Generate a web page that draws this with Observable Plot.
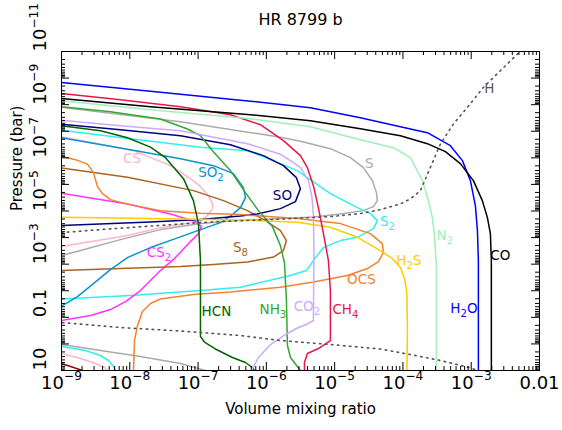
<!DOCTYPE html>
<html><head><meta charset="utf-8">
<script src="https://cdn.jsdelivr.net/npm/d3@7"></script>
<script src="https://cdn.jsdelivr.net/npm/@observablehq/plot@0.6"></script>
<style>
body{margin:0;background:#fff;}
</style></head><body><div id="chart"></div>
<script>
// Each profile: pairs [log10 volume mixing ratio, log10 pressure (bar)]; null = gap
const H2O = [[-9.161,-9.883],[-9,-9.837],[-7.697,-9.507],[-6.233,-9.131],[-5.355,-8.886],[-4.623,-8.510],[-4.037,-8.172],[-3.642,-7.946],[-3.305,-7.458],[-3.129,-6.894],[-3.012,-6.142],[-2.939,-5.202],[-2.909,-4.263],[-2.895,-3.135],[-2.895,1]];
const CO = [[-9.161,-9.289],[-9,-9.232],[-7.697,-8.924],[-6.233,-8.623],[-5.355,-8.398],[-4.623,-8.097],[-4.037,-7.834],[-3.642,-7.533],[-3.378,-7.232],[-3.159,-6.781],[-2.968,-6.142],[-2.837,-5.390],[-2.763,-4.751],[-2.719,-4.150],[-2.705,-3.135],[-2.705,1]];
const N2 = [[-9.161,-9.194],[-9,-9.149],[-7.697,-8.811],[-6.233,-8.473],[-5.355,-8.172],[-4.623,-7.683],[-4.140,-7.383],[-3.891,-7.007],[-3.715,-6.142],[-3.627,-5.390],[-3.569,-4.751],[-3.540,-4.150],[-3.510,-2.872],[-3.510,1]];
const CH4 = [[-9.161,-9.461],[-9,-9.424],[-8.136,-9.187],[-7.258,-8.924],[-6.526,-8.623],[-6.087,-8.247],[-5.750,-7.646],[-5.501,-7.082],[-5.399,-6.631],[-5.311,-5.954],[-5.238,-5.127],[-5.164,-4.150],[-5.091,-3.135],[-5.062,-2.007],[-5.062,-0.128],[-5.238,0.173],[-5.399,0.361],[-5.442,0.699],[-5.442,1]];
const S = [[-9.161,-8.961],[-9,-8.898],[-7.258,-8.360],[-5.794,-7.777],[-5.501,-7.627],[-5.062,-7.345],[-4.769,-7.007],[-4.579,-6.631],[-4.447,-6.142],[-4.388,-5.691],[-4.374,-5.390],[-4.432,-5.165],[-4.579,-5.014],[-4.915,-4.883],[-5.311,-4.770],[-6.087,-4.676],[-6.526,-4.620],[-6.965,-4.526],[-7.551,-4.300],[-8.136,-3.924],[-8.722,-3.511],[-9,-3.323],[-9.161,-3.210],null,[-9.161,-0.053],[-9,0.023],[-8.429,0.248],[-7.843,0.474],[-7.258,0.737],[-6.892,1]];
const S2 = [[-9.161,-8.093],[-9,-8.040],[-7.990,-7.721],[-6.965,-7.394],[-6.277,-7.270],[-5.794,-6.781],[-5.545,-6.518],[-5.062,-5.653],[-4.667,-5.127],[-4.476,-4.902],[-4.374,-4.639],[-4.432,-4.338],[-4.667,-4.011],[-4.915,-3.887],[-5.164,-3.624],[-5.311,-3.135],[-5.413,-2.759],[-5.647,-2.571],[-6.379,-2.131],[-6.965,-2.007],[-7.990,-1.819],[-9,-1.688],[-9.161,-1.669],null,[-9.161,0.060],[-9,0.098],[-8.649,0.248],[-8.429,0.436],[-8.312,0.624],[-8.239,0.850],[-8.209,1]];
const CS = [[-9.161,-7.853],[-9,-7.796],[-7.946,-7.270],[-7.404,-6.706],[-7.111,-6.217],[-6.965,-5.917],[-6.848,-5.578],[-6.789,-5.278],[-6.789,-5.090],[-6.863,-4.826],[-6.965,-4.620],[-7.258,-4.488],[-7.551,-4.375],[-8.034,-4.075],[-9,-3.661],[-9.161,-3.586],null,[-9.161,0.286],[-9,0.361],[-8.722,0.549],[-8.502,0.737],[-8.370,0.887],[-8.327,1]];
const SO = [[-9.161,-8.304],[-9,-8.266],[-8.136,-8.059],[-7.258,-7.834],[-6.526,-7.495],[-6.043,-7.082],[-5.750,-6.706],[-5.560,-6.255],[-5.501,-5.841],[-5.574,-5.353],[-5.794,-5.090],[-6.131,-4.890],[-6.379,-4.808],[-6.965,-4.676],[-7.697,-4.582],[-9,-4.451],[-9.161,-4.432]];
const SO2 = [[-9.161,-7.815],[-9,-7.758],[-7.990,-7.307],[-7.258,-6.969],[-6.775,-6.706],[-6.482,-6.405],[-6.336,-5.879],[-6.306,-5.503],[-6.379,-5.127],[-6.497,-4.864],[-6.672,-4.563],[-6.965,-4.300],[-7.331,-3.962],[-7.697,-3.624],[-8.034,-3.248],[-8.283,-2.797],[-8.532,-2.270],[-8.766,-1.782],[-9,-1.425],[-9.161,-1.218]];
const CO2 = [[-9.161,-8.461],[-9,-8.416],[-8.136,-8.210],[-7.258,-8.022],[-6.277,-7.533],[-5.794,-7.138],[-5.501,-6.642],[-5.384,-6.142],[-5.333,-5.541],[-5.311,-4.826],[-5.303,-3.511],[-5.311,-0.880],[-5.413,-0.729],[-5.545,-0.598],[-5.721,-0.353],[-5.940,0.023],[-6.116,0.511],[-6.218,1]];
const NH3 = [[-9.161,-8.980],[-9,-8.924],[-8.283,-8.736],[-7.551,-8.461],[-7.155,-8.086],[-6.965,-7.834],[-6.789,-7.270],[-6.526,-6.518],[-6.306,-5.691],[-6.116,-5.014],[-5.911,-4.413],[-5.794,-3.699],[-5.735,-3.060],[-5.706,-1.631],[-5.691,0.060],[-5.647,0.511],[-5.545,0.850],[-5.501,1]];
const HCN = [[-9.161,-8.266],[-9,-8.210],[-8.429,-8.022],[-8.034,-7.758],[-7.697,-7.401],[-7.477,-7.007],[-7.214,-6.217],[-7.068,-5.390],[-6.994,-4.526],[-6.965,-3.135],[-6.965,-0.278],[-6.906,-0.071],[-6.731,0.211],[-6.497,0.511],[-6.306,0.699],[-6.204,0.887],[-6.174,1]];
const OCS = [[-9.161,-7.119],[-9,-7.063],[-8.795,-6.931],[-8.619,-6.762],[-8.532,-6.443],[-8.473,-5.917],[-8.400,-5.653],[-8.283,-5.428],[-8.034,-5.259],[-7.551,-5.014],[-6.965,-4.920],[-6.379,-4.864],[-5.545,-4.714],[-4.915,-4.526],[-4.476,-4.150],[-4.301,-3.774],[-4.286,-3.436],[-4.359,-3.097],[-4.520,-2.834],[-4.813,-2.571],[-5.311,-2.327],[-5.794,-2.131],[-6.526,-1.951],[-7.068,-1.857],[-7.551,-1.688],[-7.697,-1.519],[-7.814,-1.218],[-7.887,-0.692],[-7.931,-0.128],[-7.946,1]];
const H2S = [[-9.161,-4.770],[-9,-4.763],[-7.697,-4.714],[-6.379,-4.665],[-5.545,-4.575],[-5.062,-4.387],[-4.667,-4.011],[-4.330,-3.511],[-4.154,-3.210],[-4.037,-2.872],[-3.978,-2.458],[-3.942,-1.932],[-3.934,-0.504],[-3.942,1]];
const S8 = [[-9.161,-6.676],[-9,-6.620],[-8.034,-6.266],[-7.068,-5.766],[-6.628,-5.390],[-6.277,-5.014],[-6.013,-4.639],[-5.794,-4.263],[-5.706,-3.887],[-5.750,-3.511],[-5.896,-3.267],[-6.277,-3.079],[-6.775,-2.985],[-7.258,-2.909],[-8.136,-2.834],[-9,-2.759],[-9.161,-2.740]];
const CS2 = [[-9.161,-5.710],[-9,-5.665],[-8.034,-5.266],[-7.404,-4.890],[-7.038,-4.601],[-6.950,-4.413],[-6.994,-4.150],[-7.111,-3.849],[-7.331,-3.248],[-7.551,-2.759],[-7.843,-2.007],[-8.063,-1.594],[-8.283,-1.293],[-8.575,-1.067],[-9,-0.880],[-9.161,-0.842]];
const DEEP = [[-9.161,0.662],[-9,0.737],[-8.693,1]];
const H = [[-2.192,-11.254],[-2.324,-10.905],[-2.573,-10.277],[-2.822,-9.649],[-3.056,-8.898],[-3.261,-8.273],[-3.451,-7.522],[-3.598,-6.642],[-3.744,-5.766],[-3.891,-5.454],[-4.037,-5.266],[-4.330,-5.052],[-4.623,-4.902],[-5.062,-4.789],[-5.794,-4.695],[-6.526,-4.620],[-6.965,-4.563],[-7.697,-4.432],[-8.429,-4.300],[-9,-4.187],[-9.161,-4.150],null,[-9.161,-0.842],[-9,-0.804],[-8.136,-0.616],[-7.258,-0.485],[-6.379,-0.316],[-5.794,-0.128],[-5.062,0.023],[-4.330,0.192],[-3.891,0.399],[-3.451,0.624],[-3.085,0.850],[-2.895,1]];

const seriesNames = ["DEEP","S","CS","S2","CS2","S8","SO2","SO","OCS","H2S","HCN","NH3","CO2","CH4","N2","H2O","CO"];
const seriesProfiles = [DEEP,S,CS,S2,CS2,S8,SO2,SO,OCS,H2S,HCN,NH3,CO2,CH4,N2,H2O,CO];
const seriesColors = ["#990000","#aaaaaa","#ffb4cc","#33eeee","#ff33ff","#aa6422","#0a94cc","#00007f","#f5822e","#ffcc00","#006400","#33a833","#ccaaff","#e8174a","#a0f0b8","#0000ff","#000000"];

// Curve labels: text, log10 VMR, log10 P, series colour key
const labelText = ["H","S","CS","SO_{2}","SO","S_{2}","N_{2}","CO","H_{2}S","OCS","CS_{2}","S_{8}","HCN","NH_{3}","CO_{2}","CH_{4}","H_{2}O"];
const labelLogVMR = [-2.734,-4.491,-7.968,-6.811,-5.765,-4.227,-3.386,-2.573,-3.913,-4.608,-7.573,-6.379,-6.731,-5.904,-5.406,-4.842,-3.107];
const labelLogP = [-9.600,-6.781,-6.969,-6.443,-5.578,-4.601,-4.075,-3.323,-3.135,-2.421,-3.436,-3.624,-1.218,-1.293,-1.406,-1.293,-1.331];
const labelSeries = ["H","S","CS","SO2","SO","S2","N2","CO","H2S","OCS","CS2","S8","HCN","NH3","CO2","CH4","H2O"];

const xTickValues = [1e-9,1e-8,1e-7,1e-6,1e-5,1e-4,1e-3,1e-2];
const xTickLabels = ["10^{−9}","10^{−8}","10^{−7}","10^{−6}","10^{−5}","10^{−4}","10^{−3}","0.01"];
const yTickValues = [10,0.1,1e-3,1e-5,1e-7,1e-9,1e-11];
const yTickLabels = ["10","0.1","10^{−3}","10^{−5}","10^{−7}","10^{−9}","10^{−11}"];

const title = "HR 8799 b";
const xTitle = "Volume mixing ratio";
const yTitle = "Pressure (bar)";

// ---- build tables ----
function toRows(name, prof){
  return prof.map(pt => pt ? {s:name, vmr:10**pt[0], p:10**pt[1]} : {s:name, vmr:NaN, p:NaN});
}
const rows = seriesNames.flatMap((n,i)=>toRows(n, seriesProfiles[i]));
const hRows = toRows("H", H);
const colorOf = Object.fromEntries(seriesNames.map((n,i)=>[n,seriesColors[i]]));
colorOf.H = "#555555";
const labels = labelText.map((t,i)=>({t, vmr:10**labelLogVMR[i], p:10**labelLogP[i], c:colorOf[labelSeries[i]]}));

const xDecades = xTickValues;
const xMinor = xDecades.slice(0,-1).flatMap(d=>[2,3,4,5,6,7,8,9].map(k=>k*d));
const yDecades = [1e-11,1e-10,1e-9,1e-8,1e-7,1e-6,1e-5,1e-4,1e-3,1e-2,1e-1,1,10];
const yMinor = yDecades.slice(0,-1).flatMap(d=>[2,3,4,5,6,7,8,9].map(k=>k*d));

const W=562, HT=430, mL=61, mR=23, mT=51, mB=60;
const fw = W-mL-mR, fh = HT-mT-mB;
const maj=8, mnr=4;

const chart = Plot.plot({
  width: W, height: HT,
  marginLeft: mL, marginRight: mR, marginTop: mT, marginBottom: mB,
  style: {fontFamily: "'DejaVu Sans', sans-serif", background: "#fff", overflow:"visible"},
  x: {type:"log", domain:[1e-9,1e-2], axis:null},
  y: {type:"log", domain:[10,1e-11], axis:null},
  color: {domain: seriesNames, range: seriesColors},
  marks: [
    Plot.line(rows, {x:"vmr", y:"p", z:"s", stroke:"s", strokeWidth:1.5, clip:true}),
    Plot.line(hRows, {x:"vmr", y:"p", stroke:"#555555", strokeWidth:1.6, strokeDasharray:"1.5,4.5", clip:true}),
    Plot.text(labels, {x:"vmr", y:"p", text:"t", fill:"c", fontSize:13.5}),
    // ticks (inward) on all sides
    Plot.ruleX(xDecades, {x:d=>d, insetTop: fh-maj, stroke:"#000"}),
    Plot.ruleX(xDecades, {x:d=>d, insetBottom: fh-maj, stroke:"#000"}),
    Plot.ruleX(xMinor, {x:d=>d, insetTop: fh-mnr, stroke:"#000"}),
    Plot.ruleX(xMinor, {x:d=>d, insetBottom: fh-mnr, stroke:"#000"}),
    Plot.ruleY(yDecades, {y:d=>d, insetRight: fw-maj, stroke:"#000"}),
    Plot.ruleY(yDecades, {y:d=>d, insetLeft: fw-maj, stroke:"#000"}),
    Plot.ruleY(yMinor, {y:d=>d, insetRight: fw-mnr, stroke:"#000"}),
    Plot.ruleY(yMinor, {y:d=>d, insetLeft: fw-mnr, stroke:"#000"}),
    Plot.frame({stroke:"#000", strokeWidth:1}),
    // tick labels
    Plot.text(xTickValues, {x:d=>d, text:(d,i)=>xTickLabels[i], frameAnchor:"bottom", dy:18, fontSize:18, fill:"#000"}),
    Plot.text(yTickValues, {y:d=>d, text:(d,i)=>yTickLabels[i], frameAnchor:"left", dx:-21, rotate:-90, fontSize:18, fill:"#000"}),
    // titles
    Plot.text([title], {frameAnchor:"top", dy:-38, fontSize:16, fill:"#000"}),
    Plot.text([xTitle], {frameAnchor:"bottom", dy:43, fontSize:15, fill:"#000"}),
    Plot.text([yTitle], {frameAnchor:"left", dx:-44, rotate:-90, fontSize:15, fill:"#000"})
  ]
});
document.getElementById("chart").appendChild(chart);

// rich text: ^{..} superscript, _{..} subscript
const NS = "http://www.w3.org/2000/svg";
chart.querySelectorAll("text").forEach(t=>{
  const s = t.textContent;
  if(!/[\^_]\{/.test(s)) return;
  const fs = parseFloat(getComputedStyle(t).fontSize) || 14;
  const parts = s.split(/([\^_]\{[^}]*\})/).filter(p=>p.length);
  while(t.firstChild) t.removeChild(t.firstChild);
  let shift = 0;
  for(const p of parts){
    const ts = document.createElementNS(NS,"tspan");
    let target = 0, txt = p, size = null;
    if(p[0]==="^"){ target = -0.45*fs; txt = p.slice(2,-1); size = 0.68*fs; }
    else if(p[0]==="_"){ target = 0.32*fs; txt = p.slice(2,-1); size = 0.75*fs; }
    ts.setAttribute("dy", (target-shift).toFixed(2));
    shift = target;
    if(size) ts.setAttribute("font-size", size.toFixed(1));
    ts.textContent = txt;
    t.appendChild(ts);
  }
});
</script>
</body></html>
